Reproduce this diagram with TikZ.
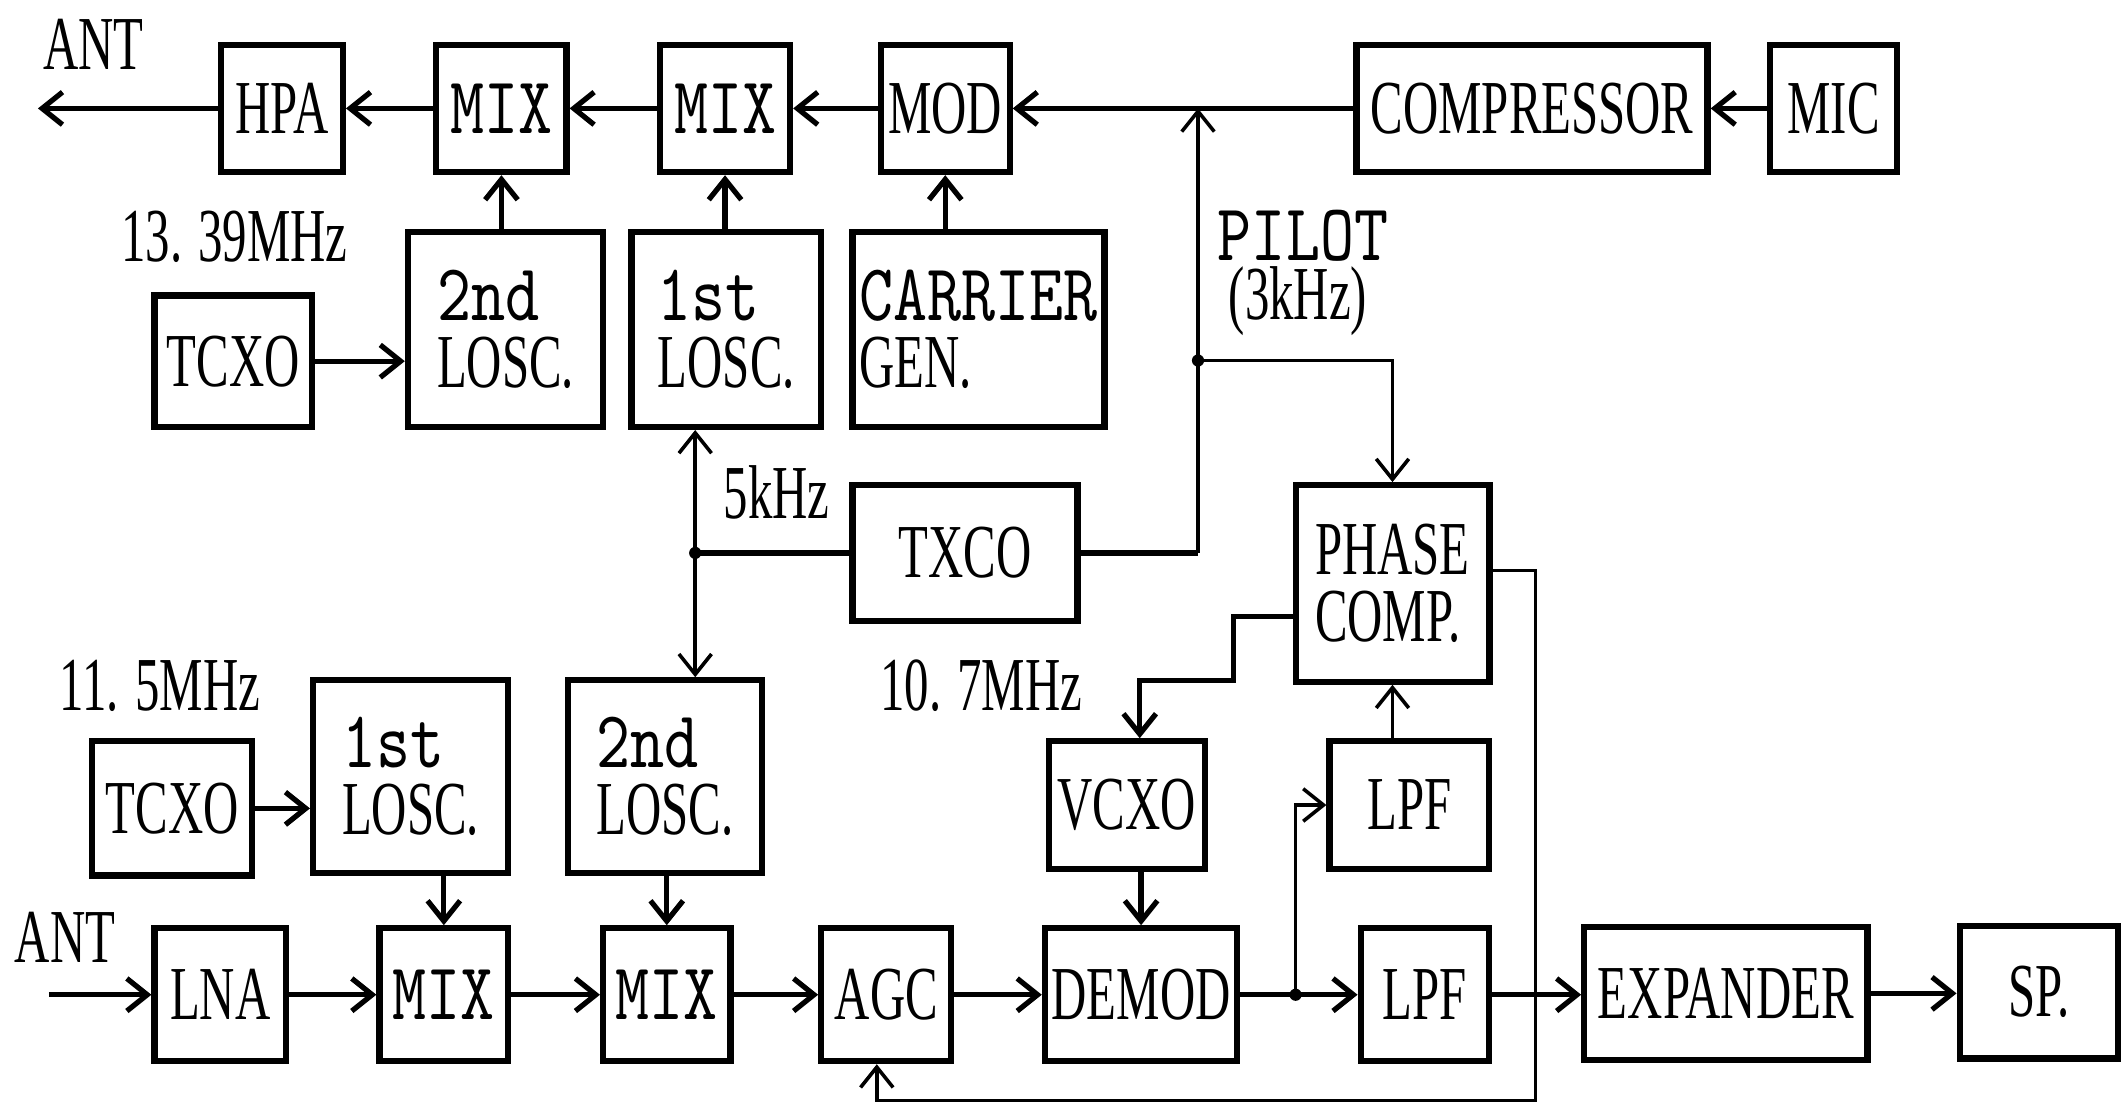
\documentclass[tikz,border=0pt]{standalone}
\usepackage{fontspec}
\setmainfont{Liberation Serif}[FakeStretch=0.64]
\newfontfamily\monof{lmmono10-regular.otf}[FakeStretch=0.8]
\usetikzlibrary{arrows.meta}
\newcommand\myblk[7][]{%
  \pgfmathsetmacro\bw{(#5-#3)*0.01}%
  \pgfmathsetmacro\bh{(#6-#4)*0.01}%
  \node[blk,#1,minimum width=\bw cm,minimum height=\bh cm] (#2) at ({(#3+#5)/2},{(#4+#6)/2}) {#7};}
\newcommand\mt[1]{{\fontsize{17}{14}\selectfont\monof #1}}
\begin{document}
\begin{tikzpicture}[x=0.01cm,y=-0.01cm,
  blk/.style={draw,line width=1.3pt,inner sep=0pt,align=center,font=\fontsize{16}{14}\selectfont},
  lbl/.style={inner sep=0pt,font=\fontsize{16}{14}\selectfont},
  arr/.style={line width=1.1pt,-{Straight Barb[length=0.15cm,width=0.24cm]}},
  tarr/.style={line width=0.75pt,-{Straight Barb[length=0.15cm,width=0.24cm]}},
  ln/.style={line width=1.1pt},
  tln/.style={line width=0.75pt}]
\useasboundingbox (0,0) rectangle (1568,815);
% transmitter chain
\myblk{hpa}{163}{33}{253}{127}{HPA}
\myblk{mixa}{322}{33}{418}{127}{\mt{MIX}}
\myblk{mixb}{487}{33}{583}{127}{\mt{MIX}}
\myblk{mod}{650}{33}{745}{127}{MOD}
\myblk{comp}{1001}{33}{1260}{127}{COMPRESSOR}
\myblk{mic}{1306}{33}{1400}{127}{MIC}
\myblk{tcxoa}{114}{218}{230}{315}{TCXO}
\myblk[align=left]{losc2a}{301}{171}{445}{315}{\mt{2nd}\\LOSC.}
\myblk[align=left]{losc1a}{466}{171}{606}{315}{\mt{1st}\\LOSC.}
\myblk[align=left]{carr}{629}{171}{815}{315}{\mt{CARRIER}\\GEN.}
\myblk{txco}{629}{358}{795}{458}{TXCO}
\myblk[align=left]{phase}{956}{358}{1099}{503}{PHASE\\COMP.}
\myblk{vcxo}{774}{547}{889}{641}{VCXO}
\myblk{lpft}{981}{547}{1099}{641}{LPF}
% receiver chain
\myblk{tcxob}{68}{547}{186}{646}{TCXO}
\myblk[align=left]{losc1b}{231}{502}{375}{644}{\mt{1st}\\LOSC.}
\myblk[align=left]{losc2b}{419}{502}{562}{644}{\mt{2nd}\\LOSC.}
\myblk{lna}{114}{685}{211}{783}{LNA}
\myblk{mixc}{280}{685}{375}{783}{\mt{MIX}}
\myblk{mixd}{445}{685}{539}{783}{\mt{MIX}}
\myblk{agc}{606}{685}{702}{783}{AGC}
\myblk{demod}{771}{685}{913}{783}{DEMOD}
\myblk{lpfb}{1004}{685}{1099}{783}{LPF}
\myblk{exp}{1169}{684}{1378}{782}{EXPANDER}
\myblk{sp}{1446}{683}{1563}{781}{SP.}
% labels
\node[lbl] (antt) at (69,33) {ANT};
\node[lbl] (f1339) at (173,175) {13. 39MHz};
\node[lbl] (f5k) at (573,363) {5kHz};
\node[lbl,anchor=west] (pil1) at (898,174) {\mt{PILOT}};
\node[lbl,anchor=west] (pil2) at (906,222) {(3kHz)};
\node[lbl] (f115) at (118,506) {11. 5MHz};
\node[lbl] (f107) at (724,506) {10. 7MHz};
\node[lbl] (antb) at (48,692) {ANT};
% coordinates
\coordinate (antTo) at (28,80);
\coordinate (ptop) at (884,80);
\coordinate (pj) at (884,266);
\coordinate (j5) at (513,408);
\coordinate (s1) at (910,502);
\coordinate (s2) at (841,502);
\coordinate (jd) at (956,734);
\coordinate (antFrom) at (36,734);
\coordinate (fbr) at (1133,812);
\coordinate (fbl) at (647,812);
% top connectors
\draw[arr] (mic.west) -- (comp.east);
\draw[arr] (comp.west) -- (mod.east);
\draw[arr] (mod.west) -- (mixb.east);
\draw[arr] (mixb.west) -- (mixa.east);
\draw[arr] (mixa.west) -- (hpa.east);
\draw[arr] (hpa.west) -- (antTo);
\draw[arr] (tcxoa.east) -- (tcxoa.east -| losc2a.west);
\draw[arr] (losc2a.north -| mixa.south) -- (mixa.south);
\draw[arr] (losc1a.north -| mixb.south) -- (mixb.south);
\draw[arr] (carr.north -| mod.south) -- (mod.south);
\draw[ln] (txco.east) -- (txco.east -| ptop);
\draw[tarr] (txco.east -| ptop) -- (ptop);
\draw[ln] (txco.west) -- (j5);
\draw[tarr] (j5) -- (j5 |- losc1a.south);
\draw[tarr] (j5) -- (j5 |- losc2b.north);
\draw[tarr] (pj) -| (phase.north);
\draw[arr] ([yshift=-0.245cm]phase.west) -| (s1) -- (s2) -- (s2 |- vcxo.north);
\draw[arr] (vcxo.south -| demod.north) -- (demod.north);
\draw[tarr] (lpft.north -| phase.south) -- (phase.south);
% receiver connectors
\draw[arr] (antFrom) -- (lna.west);
\draw[arr] (lna.east) -- (mixc.west);
\draw[arr] (mixc.east) -- (mixd.west);
\draw[arr] (mixd.east) -- (agc.west);
\draw[arr] (agc.east) -- (demod.west);
\draw[arr] (demod.east) -- (lpfb.west);
\draw[tarr] (jd) |- (lpft.west);
\draw[arr] (lpfb.east) -- (lpfb.east -| exp.west);
\draw[arr] (exp.east) -- (exp.east -| sp.west);
\draw[arr] (tcxob.east) -- (tcxob.east -| losc1b.west);
\draw[arr] (losc1b.south -| mixc.north) -- (mixc.north);
\draw[arr] (losc2b.south -| mixd.north) -- (mixd.north);
\draw[tarr] ([yshift=0.095cm]phase.east) -| (fbr) -- (fbl) -- (fbl |- agc.south);
% junction dots
\fill (pj) circle[radius=0.045cm];
\fill (j5) circle[radius=0.045cm];
\fill (jd) circle[radius=0.045cm];
\end{tikzpicture}
\end{document}
